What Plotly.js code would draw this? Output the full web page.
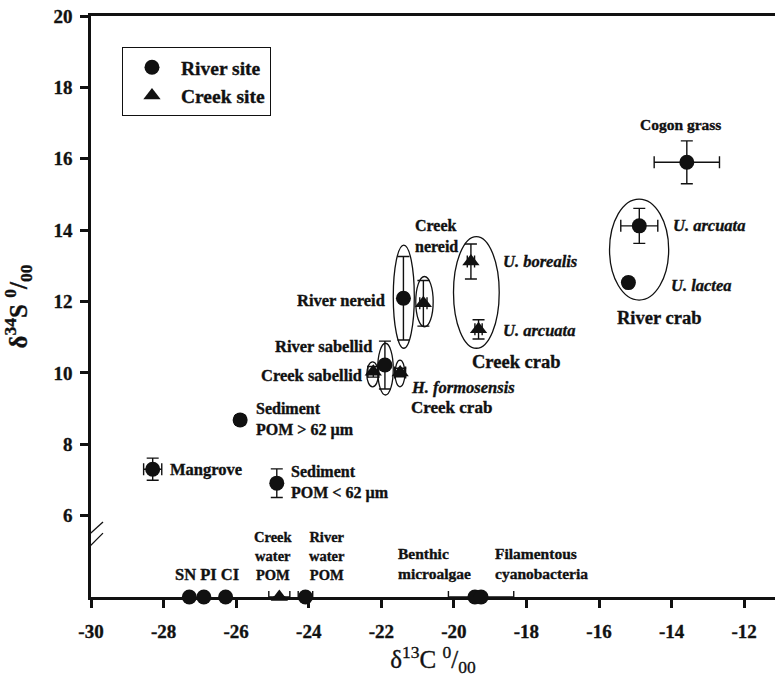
<!DOCTYPE html>
<html>
<head>
<meta charset="utf-8">
<script src="https://cdn.plot.ly/plotly-3.0.1.min.js"></script>
<style>
html,body{margin:0;padding:0;background:#fff;}
#chart{width:775px;height:681px;}
#chart svg text{stroke:#111;stroke-width:0.35px;}
</style>
</head>
<body>
<div id="chart"></div>
<script>
// ---- Data (δ13C, δ34S, SD) ----
// Row drawn on the broken-axis baseline (no δ34S value)
var BASELINE_Y = 3.72;

var riverNames = ["Cogon grass","River crab U. arcuata","River crab U. lactea","River nereid","River sabellid",
                  "Sediment POM > 62 µm","Mangrove","Sediment POM < 62 µm",
                  "SN","PI","CI","River water POM","Benthic microalgae","Filamentous cyanobacteria"];
var riverC   = [-13.58,-14.89,-15.19,-21.39,-21.90,-25.89,-28.30,-24.88,-27.29,-26.89,-26.29,-24.09,-19.42,-19.25];
var riverS   = [15.90,14.12,12.53,12.09,10.22,8.68,7.30,6.91,BASELINE_Y,BASELINE_Y,BASELINE_Y,BASELINE_Y,BASELINE_Y,BASELINE_Y];
var riverCsd = [0.90,0.51,0.10,0.10,0.10,0.12,0.25,0.00,0,0,0,0.20,0,0.90];
var riverSsd = [0.60,0.49,0.10,1.17,0.67,0.12,0.31,0.40,0,0,0,0,0,0];

var creekNames = ["Creek nereid","Creek crab U. borealis","Creek crab U. arcuata","Creek sabellid","H. formosensis","Creek water POM"];
var creekC   = [-20.84,-19.53,-19.32,-22.22,-21.48,-24.81];
var creekS   = [11.95,13.12,11.22,10.03,10.01,BASELINE_Y];
var creekCsd = [0.10,0.10,0.10,0.15,0.15,0.29];
var creekSsd = [0.64,0.49,0.27,0.15,0.12,0];

// Group ellipses: [xMin, xMax, yMin, yMax] in data units
var groupEllipses = [
  [-21.67,-21.09,10.69,13.58],  // River nereid
  [-21.05,-20.57,11.29,12.70],  // Creek nereid
  [-20.01,-18.75,10.69,13.82],  // Creek crab
  [-15.71,-14.08,12.04,14.87],  // River crab
  [-22.10,-21.67,9.38,10.83],   // River sabellid
  [-22.40,-22.08,9.61,10.31],   // Creek sabellid
  [-21.62,-21.35,9.61,10.36]    // H. formosensis
];

var xTicks = [-30,-28,-26,-24,-22,-20,-18,-16,-14,-12];
var yTicks = [6,8,10,12,14,16,18,20];

// ---- Styles ----
var FONT = "Liberation Serif, Times New Roman, serif";
var black = "#111";

function errStyle(arr){
  return {type:"data", array:arr, visible:true, color:black, thickness:1.4, width:6};
}

var traces = [
  {
    name:"River site", x:riverC, y:riverS, text:riverNames, type:"scatter", mode:"markers",
    marker:{symbol:"circle", size:15, color:black},
    error_x:errStyle(riverCsd), error_y:errStyle(riverSsd), cliponaxis:false,
    hovertemplate:"%{text}<br>δ13C %{x}<br>δ34S %{y}<extra></extra>"
  },
  {
    name:"Creek site", x:creekC, y:creekS, text:creekNames, type:"scatter", mode:"markers",
    marker:{symbol:"triangle-up", size:15, color:black},
    error_x:errStyle(creekCsd), error_y:errStyle(creekSsd), cliponaxis:false,
    hovertemplate:"%{text}<br>δ13C %{x}<br>δ34S %{y}<extra></extra>"
  }
];

var shapes = groupEllipses.map(function(e){
  return {type:"circle", xref:"x", yref:"y", x0:e[0], x1:e[1], y0:e[2], y1:e[3],
          line:{color:black, width:1.3}, fillcolor:"rgba(0,0,0,0)"};
});
// axis break marks
shapes.push({type:"line", xref:"x", yref:"y", x0:-30.02, x1:-30.02, y0:5.18, y1:5.51, line:{color:"#fff", width:6}, layer:"above"});
shapes.push({type:"line", xref:"x", yref:"y", x0:-30.36, x1:-29.67, y0:5.18, y1:5.82, line:{color:black, width:1.3}, layer:"above"});
shapes.push({type:"line", xref:"x", yref:"y", x0:-30.36, x1:-29.67, y0:4.81, y1:5.51, line:{color:black, width:1.3}, layer:"above"});

function lab(text, x, y, xanchor, opts){
  opts = opts || {};
  return {text:text, x:x, y:y, xref:"x", yref:"y", xanchor:xanchor, yanchor:"middle",
          showarrow:false, align:opts.align || xanchor,
          font:{family:FONT, size:opts.size || 16.5, color:black, weight:"bold",
                style: opts.italic ? "italic" : "normal"}};
}

var annotations = [
  lab("Cogon grass", -13.765, 16.97, "center", {size:15.5}),
  lab("U. arcuata", -14.01, 14.12, "left", {italic:true}),
  lab("U. lactea", -14.08, 12.46, "left", {italic:true}),
  lab("River crab", -15.56, 11.53, "left", {size:18.5}),
  lab("Creek<br>nereid", -21.12, 13.84, "left", {size:16}),
  lab("U. borealis", -18.71, 13.11, "left", {italic:true}),
  lab("U. arcuata", -18.71, 11.20, "left", {italic:true}),
  lab("Creek crab", -19.55, 10.31, "left", {size:18.5}),
  lab("H. formosensis", -21.23, 9.60, "left", {italic:true}),
  lab("Creek crab", -21.23, 9.04, "left", {size:17}),
  lab("River nereid", -21.85, 12.04, "right"),
  lab("River sabellid", -22.20, 10.73, "right"),
  lab("Creek sabellid", -22.49, 9.94, "right"),
  lab("Sediment<br>POM > 62 µm", -25.51, 8.68, "left", {size:16}),
  lab("Mangrove", -27.87, 7.28, "left"),
  lab("Sediment<br>POM < 62 µm", -24.53, 6.92, "left", {size:16}),
  lab("SN PI CI", -26.81, 4.36, "center"),
  lab("Creek<br>water<br>POM", -24.98, 4.86, "center", {size:14.5}),
  lab("River<br>water<br>POM", -23.51, 4.86, "center", {size:14.5}),
  lab("Benthic<br>microalgae", -21.59, 4.67, "left", {size:15.5}),
  lab("Filamentous<br>cyanobacteria", -18.91, 4.67, "left", {size:15.5})
];

var layout = {
  width:775, height:681,
  margin:{l:91, r:0, t:16, b:84, pad:0},
  paper_bgcolor:"#fff", plot_bgcolor:"#fff",
  font:{family:FONT, color:black},
  showlegend:true,
  legend:{x:0.0453, y:0.9466, xanchor:"left", yanchor:"top", bgcolor:"#fff",
          bordercolor:black, borderwidth:1,
          font:{family:FONT, size:19.5, color:black, weight:"bold"},
          itemwidth:48, tracegroupgap:0},
  xaxis:{
    range:[-30,-11.15], tickvals:xTicks, ticktext:xTicks.map(String),
    showgrid:false, zeroline:false, showline:true, linecolor:black, linewidth:2.5,
    mirror:true, ticks:"outside", ticklen:8, tickwidth:2.5, tickcolor:black,
    ticklabelstandoff:7,
    tickfont:{family:FONT, size:19, color:black, weight:"bold"},
    title:{text:"δ<sup>13</sup>C <sup>0</sup>/<sub>00</sub>", font:{family:FONT, size:25, color:black}, standoff:9}
  },
  yaxis:{
    range:[BASELINE_Y,20], tickvals:yTicks, ticktext:yTicks.map(String),
    showgrid:false, zeroline:false, showline:true, linecolor:black, linewidth:2.5,
    ticks:"outside", ticklen:8, tickwidth:2.5, tickcolor:black,
    ticklabelstandoff:4,
    tickfont:{family:FONT, size:19, color:black, weight:"bold"},
    title:{text:"δ<sup>34</sup>S <sup>0</sup>/<sub>00</sub>", font:{family:FONT, size:25, color:black, weight:"bold"}, standoff:20}
  },
  shapes:shapes,
  annotations:annotations
};

Plotly.newPlot("chart", traces, layout, {displayModeBar:false});
</script>
</body>
</html>
